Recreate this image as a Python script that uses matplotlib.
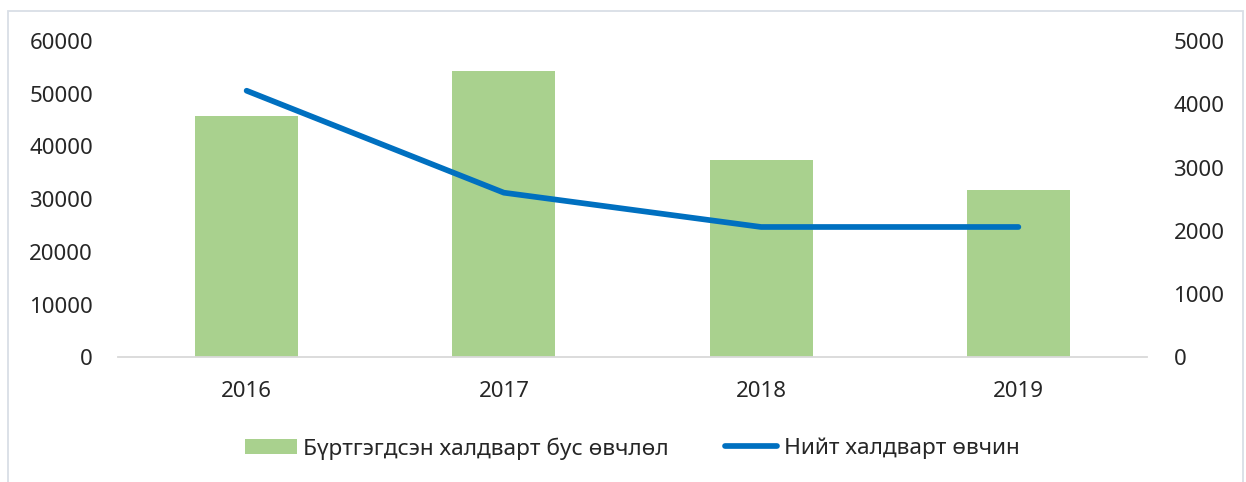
import matplotlib
matplotlib.use("Agg")
import matplotlib.pyplot as plt
from matplotlib.patches import Rectangle, Patch
from matplotlib.lines import Line2D

years = ["2016", "2017", "2018", "2019"]
registered_ncd = [45830, 54360, 37480, 31790]
total_infectious = [4214, 2602, 2060, 2060]
left_ticks = [0, 10000, 20000, 30000, 40000, 50000, 60000]
right_ticks = [0, 1000, 2000, 3000, 4000, 5000]
label_bar = "Бүртгэгдсэн халдварт бус өвчлөл"
label_line = "Нийт халдварт өвчин"

plt.rcParams['font.family'] = ['Noto Sans', 'DejaVu Sans']

W, H = 1246, 482
fig = plt.figure(figsize=(W / 100, H / 100), dpi=100)
ax = fig.add_axes([118 / W, (H - 357.3) / H, (1147 - 118) / W, (357.3 - 41) / H])

x = list(range(len(years)))
ax.bar(x, registered_ncd, width=0.4, color='#A9D18E', zorder=2)
ax.set_xlim(-0.5, 3.5)
ax.set_ylim(0, 60000)
ax.set_yticks(left_ticks)
ax.set_xticks(x)
ax.set_xticklabels(years)
for s in ['top', 'left', 'right']:
    ax.spines[s].set_visible(False)
ax.spines['bottom'].set_color('#D9D9D9')
ax.spines['bottom'].set_linewidth(1.3)
ax.tick_params(axis='y', length=0, pad=18, labelsize=16, labelcolor='#262626')
ax.tick_params(axis='x', length=0, pad=17, labelsize=16, labelcolor='#262626')

ax2 = ax.twinx()
ax2.plot(x, total_infectious, color='#0070C0', linewidth=4.1, solid_capstyle='round',
         solid_joinstyle='round', zorder=3)
ax2.set_ylim(0, 5000)
ax2.set_yticks(right_ticks)
for s in ['top', 'left', 'right', 'bottom']:
    ax2.spines[s].set_visible(False)
ax2.tick_params(axis='y', length=0, pad=19, labelsize=16, labelcolor='#262626')

fs = 16.3
fs_px = fs * 100 / 72
leg_y = (H - 448.5) / H
cap = 4.1 * 100 / 72 / 2

h1 = Patch(facecolor='#A9D18E', edgecolor='none')
leg1 = fig.legend([h1], [label_bar], loc='center left', bbox_to_anchor=(245 / W, leg_y),
                  frameon=False, fontsize=fs, handlelength=52 / fs_px,
                  handleheight=15 / fs_px, handletextpad=6 / fs_px,
                  borderpad=0, borderaxespad=0)
h2 = Line2D([0], [0], color='#0070C0', linewidth=4.1, solid_capstyle='round')
leg2 = fig.legend([h2], [label_line], loc='center left',
                  bbox_to_anchor=((722 + cap) / W, leg_y),
                  frameon=False, fontsize=fs, handlelength=(58 - 2 * cap) / fs_px,
                  handletextpad=(4 + cap) / fs_px, borderpad=0, borderaxespad=0)
for leg in (leg1, leg2):
    for t in leg.get_texts():
        t.set_color('#262626')

fig.patches.append(Rectangle((8 / W, -0.05), (1243 - 8) / W, (H - 11) / H + 0.05,
                             transform=fig.transFigure, fill=False,
                             edgecolor='#D9DEE6', linewidth=1.3))

fig.savefig("out.png", dpi=100)
